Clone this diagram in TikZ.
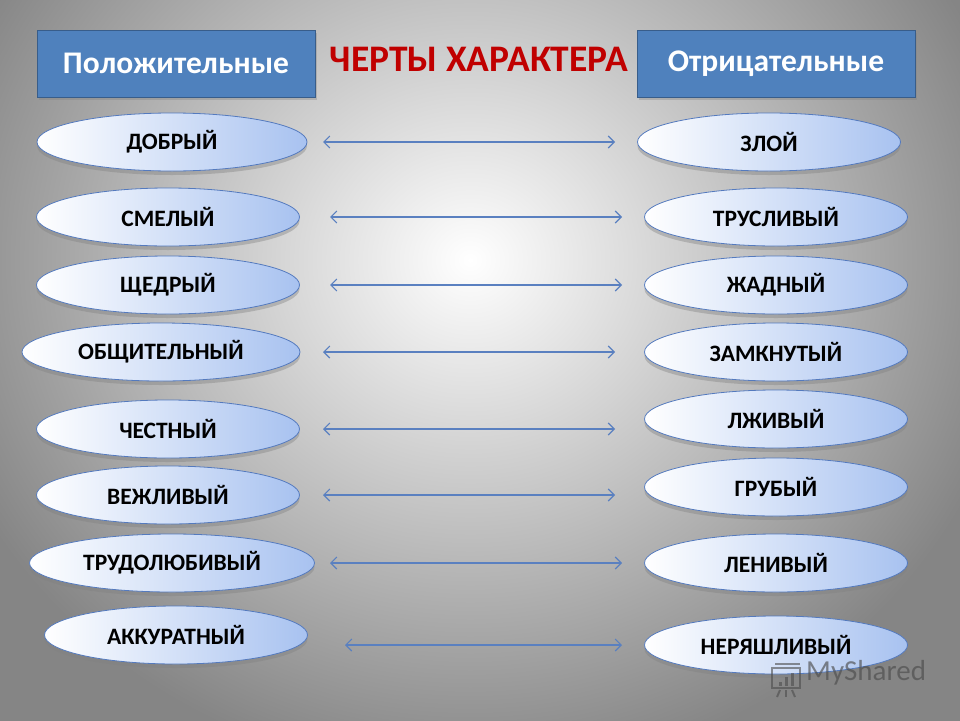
\documentclass[tikz,border=0pt]{standalone}
\usepackage{fontspec}
\setmainfont{Carlito}
\usetikzlibrary{shapes.geometric,shadows,arrows.meta}
\definecolor{boxblue}{RGB}{79,129,189}
\definecolor{boxedge}{RGB}{56,93,138}
\definecolor{ellblue}{RGB}{168,194,240}
\definecolor{elledge}{RGB}{84,122,190}
\definecolor{titlered}{RGB}{192,0,0}
\definecolor{arrblue}{RGB}{90,128,192}
\tikzset{
  headbox/.style={draw=boxedge, line width=1pt, fill=boxblue, minimum width=278pt, minimum height=67pt,
    inner sep=0pt, text=white, font=\bfseries\fontsize{31.5}{33}\selectfont,
    drop shadow={shadow xshift=2pt, shadow yshift=-3pt, opacity=0.35}},
  trait/.style={ellipse, draw=elledge, line width=0.8pt, left color=white, right color=ellblue,
    minimum width=263pt, minimum height=58pt, inner sep=0pt, text=black,
    font=\bfseries\fontsize{23.5}{25}\selectfont,
    drop shadow={shadow xshift=0pt, shadow yshift=-4pt, opacity=0.4}},
  link/.style={arrblue, line width=1.1pt, {Straight Barb[length=6pt,width=12pt]}-{Straight Barb[length=6pt,width=12pt]}}
}
\begin{document}
\begin{tikzpicture}[x=1pt,y=-1pt]
\useasboundingbox (0,0) rectangle (960,720);
\begin{scope}
\clip (0,0) rectangle (960,720);
\shade[inner color=white, outer color=black!48] (-90,-260) rectangle (1030,780);
\end{scope}
% headers
\node[headbox] (pos) at (176,63.5) {Положительные};
\node[headbox] (neg) at (776,63.5) {Отрицательные};
\node[text=titlered, font=\bfseries\fontsize{37.5}{39}\selectfont, inner sep=0pt] (title) at (479,59) {ЧЕРТЫ ХАРАКТЕРА};
% left traits
\node[trait, minimum width=270pt] (l1) at (172,142) {ДОБРЫЙ};
\node[trait] (l2) at (168,217) {СМЕЛЫЙ};
\node[trait] (l3) at (168,285) {ЩЕДРЫЙ};
\node[trait, minimum width=278pt] (l4) at (161,352) {ОБЩИТЕЛЬНЫЙ};
\node[trait] (l5) at (168,429) {ЧЕСТНЫЙ};
\node[trait] (l6) at (168,495) {ВЕЖЛИВЫЙ};
\node[trait, minimum width=285pt] (l7) at (172,563) {ТРУДОЛЮБИВЫЙ};
\node[trait] (l8) at (176,635) {АККУРАТНЫЙ};
% right traits
\node[trait] (r1) at (769,142) {ЗЛОЙ};
\node[trait] (r2) at (776,217) {ТРУСЛИВЫЙ};
\node[trait] (r3) at (776,285) {ЖАДНЫЙ};
\node[trait] (r4) at (776,352) {ЗАМКНУТЫЙ};
\node[trait] (r5) at (776,419) {ЛЖИВЫЙ};
\node[trait] (r6) at (776,487) {ГРУБЫЙ};
\node[trait] (r7) at (776,563) {ЛЕНИВЫЙ};
\node[trait] (r8) at (776,645) {НЕРЯШЛИВЫЙ};
% arrow ends
\coordinate (a1) at (323,142); \coordinate (b1) at (615,142);
\coordinate (a2) at (330,217); \coordinate (b2) at (622,217);
\coordinate (a3) at (330,285); \coordinate (b3) at (622,285);
\coordinate (a4) at (323,352); \coordinate (b4) at (615,352);
\coordinate (a5) at (323,429); \coordinate (b5) at (615,429);
\coordinate (a6) at (323,495); \coordinate (b6) at (615,495);
\coordinate (a7) at (330,563); \coordinate (b7) at (622,563);
\coordinate (a8) at (345,645); \coordinate (b8) at (622,645);
\foreach \i in {1,...,8} { \draw[link] (a\i) -- (b\i); }
% watermark
\begin{scope}[opacity=0.6, draw=black!70, line width=2pt]
\draw (772,668) rectangle (800,688);
\draw (775,664) -- (800,664);
\fill[black!70] (779,682) rectangle (782,686);
\fill[black!70] (785,677) rectangle (788,686);
\fill[black!70] (791,673) rectangle (794,686);
\draw (780,690) -- (777,697); \draw (786,690) -- (786,697); \draw (792,690) -- (795,697);
\end{scope}
\node[anchor=west, inner sep=0pt, text=black!70, opacity=0.65, font=\fontsize{29}{31}\selectfont] (wm) at (806,673) {MyShared};
\end{tikzpicture}
\end{document}
